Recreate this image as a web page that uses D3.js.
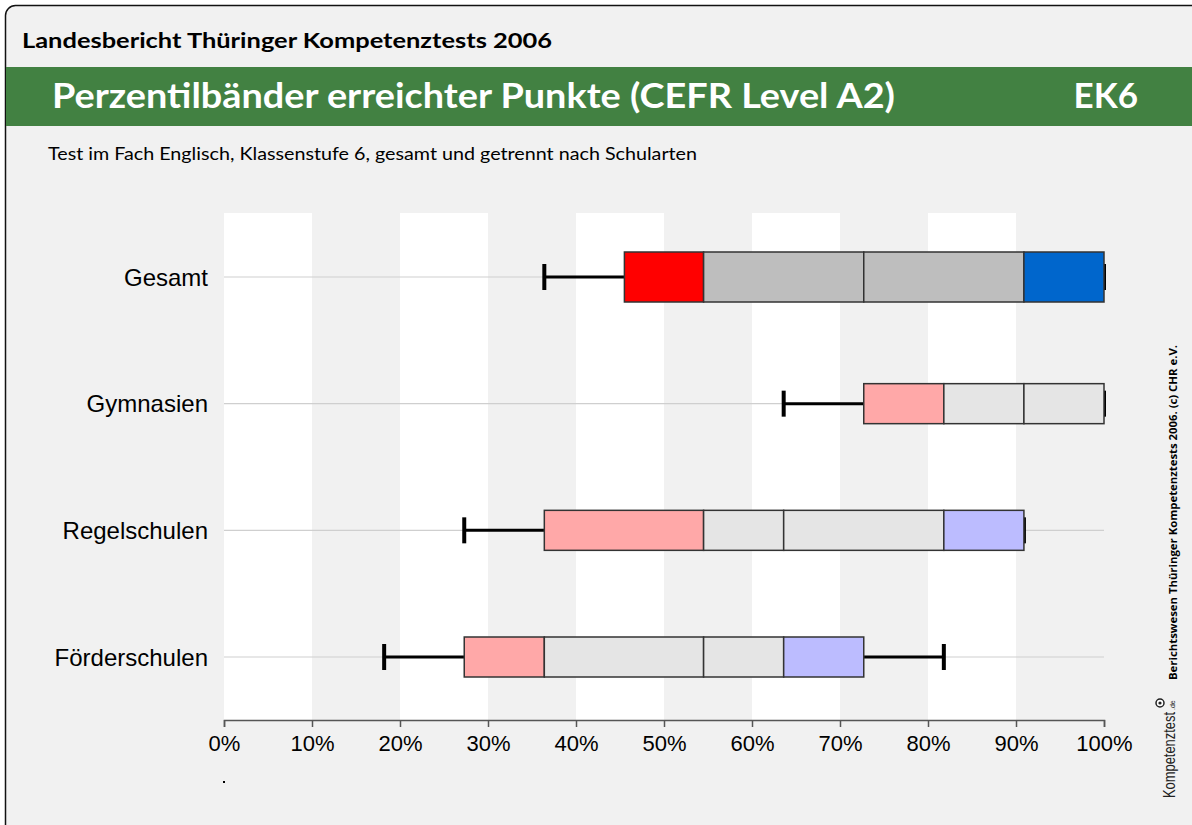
<!DOCTYPE html>
<html>
<head>
<meta charset="utf-8">
<script src="https://cdn.jsdelivr.net/npm/d3@7"></script>
<style>
  html, body { margin: 0; padding: 0; background: #fff; }
  svg { display: block; }
</style>
</head>
<body>
<div id="container"></div>
<script>
//Width and height
var w = 1192;
var h = 825;

//percentile data (% of points)
var categories = ["Gesamt", "Gymnasien", "Regelschulen", "Förderschulen"];
var p5  = [36.4, 63.6, 27.3, 18.2];
var p10 = [45.5, 72.7, 36.4, 27.3];
var p25 = [54.5, 81.8, 54.5, 36.4];
var p50 = [72.7, 90.9, 63.6, 54.5];
var p75 = [90.9, 100, 81.8, 63.6];
var p90 = [100, 100, 90.9, 72.7];
var p95 = [100, 100, 90.9, 81.8];
var tickValues = [0, 10, 20, 30, 40, 50, 60, 70, 80, 90, 100];

//colours: first row strong, school types pale
var strongColors = ["#ff0000", "#bebebe", "#bebebe", "#0066cc"];
var paleColors = ["#ffa8a8", "#e5e5e5", "#e5e5e5", "#bcbcff"];

var svg = d3.select('#container')
    .append('svg')
    .attr('width', w)
    .attr('height', h);

//frame
svg.append('rect')
    .attr('x', 5.5)
    .attr('y', 5.5)
    .attr('width', w + 20)
    .attr('height', h + 20)
    .attr('rx', 10)
    .attr('fill', '#f1f1f1')
    .attr('stroke', '#111')
    .attr('stroke-width', 1.5);

//header
svg.append('text')
    .attr('x', 22)
    .attr('y', 48)
    .attr('textLength', 530)
    .attr('lengthAdjust', 'spacingAndGlyphs')
    .style('font-family', 'Lato, "DejaVu Sans", sans-serif')
    .style('font-weight', 'bold')
    .style('font-size', '21px')
    .style('fill', '#000')
    .text('Landesbericht Thüringer Kompetenztests 2006');

svg.append('rect')
    .attr('x', 6)
    .attr('y', 67)
    .attr('width', w)
    .attr('height', 59)
    .attr('fill', '#428142');

svg.append('text')
    .attr('x', 52)
    .attr('y', 108)
    .attr('textLength', 843)
    .attr('lengthAdjust', 'spacingAndGlyphs')
    .style('font-family', 'Lato, "DejaVu Sans", sans-serif')
    .style('font-weight', 'bold')
    .style('font-size', '35px')
    .style('fill', '#fff')
    .text('Perzentilbänder erreichter Punkte (CEFR Level A2)');

svg.append('text')
    .attr('x', 1138)
    .attr('y', 108)
    .attr('text-anchor', 'end')
    .style('font-family', 'Lato, "DejaVu Sans", sans-serif')
    .style('font-weight', 'bold')
    .style('font-size', '35px')
    .style('fill', '#fff')
    .text('EK6');

svg.append('text')
    .attr('x', 48)
    .attr('y', 160)
    .attr('textLength', 649)
    .attr('lengthAdjust', 'spacingAndGlyphs')
    .style('font-family', 'Lato, "DejaVu Sans", sans-serif')
    .style('font-size', '17px')
    .style('fill', '#000')
    .text('Test im Fach Englisch, Klassenstufe 6, gesamt und getrennt nach Schularten');

//scales
var x = d3.scaleLinear()
    .domain([0, 100])
    .range([224, 1104]);

var y = d3.scalePoint()
    .domain(categories)
    .range([277, 657]);

var plotTop = 213;
var plotBottom = 720;

//background stripes (grey every other decade)
svg.selectAll('rect.stripe')
    .data(d3.range(0, 100, 10))
    .enter()
    .append('rect')
    .attr('class', 'stripe')
    .attr('x', function(d) { return x(d); })
    .attr('y', plotTop)
    .attr('width', x(10) - x(0))
    .attr('height', plotBottom - plotTop)
    .attr('fill', function(d) { return (d / 10) % 2 === 0 ? '#ffffff' : '#f1f1f1'; });

//horizontal guide lines
svg.selectAll('line.guide')
    .data(categories)
    .enter()
    .append('line')
    .attr('class', 'guide')
    .attr('x1', x(0))
    .attr('x2', x(100))
    .attr('y1', function(d) { return y(d); })
    .attr('y2', function(d) { return y(d); })
    .attr('stroke', '#cfcfcf')
    .attr('stroke-width', 1.2);

//category labels
svg.selectAll('text.cat')
    .data(categories)
    .enter()
    .append('text')
    .attr('class', 'cat')
    .attr('x', 208)
    .attr('y', function(d) { return y(d) + 8.5; })
    .attr('text-anchor', 'end')
    .style('font-family', '"Liberation Sans", Arial, sans-serif')
    .style('font-size', '24px')
    .style('fill', '#000')
    .text(function(d) { return d; });

//one group per row
var rows = categories.map(function(c, i) {
    return {
        name: c,
        i: i,
        vals: [p10[i], p25[i], p50[i], p75[i], p90[i]],
        lo: p5[i],
        hi: p95[i],
        colors: i === 0 ? strongColors : paleColors,
        bh: i === 0 ? 50 : 40
    };
});

var row = svg.selectAll('g.row')
    .data(rows)
    .enter()
    .append('g')
    .attr('class', 'row')
    .attr('transform', function(d) { return 'translate(0,' + y(d.name) + ')'; });

//whisker lines
row.append('line')
    .attr('x1', function(d) { return x(d.lo); })
    .attr('x2', function(d) { return x(d.vals[0]); })
    .attr('stroke', '#000')
    .attr('stroke-width', 3);

row.append('line')
    .attr('x1', function(d) { return x(d.vals[4]); })
    .attr('x2', function(d) { return x(d.hi); })
    .attr('stroke', '#000')
    .attr('stroke-width', 3);

//whisker caps (under the boxes, so caps at a box edge only peek out)
row.selectAll('line.cap')
    .data(function(d) { return [d.lo, d.hi]; })
    .enter()
    .append('line')
    .attr('class', 'cap')
    .attr('x1', function(v) { return x(v); })
    .attr('x2', function(v) { return x(v); })
    .attr('y1', -13)
    .attr('y2', 13)
    .attr('stroke', '#000')
    .attr('stroke-width', 4);

//box segments
row.each(function(d) {
    var segs = [];
    for (var k = 0; k < 4; k++) {
        if (d.vals[k + 1] > d.vals[k]) {
            segs.push({ a: d.vals[k], b: d.vals[k + 1], c: d.colors[k], bh: d.bh });
        }
    }
    d3.select(this).selectAll('rect.seg')
        .data(segs)
        .enter()
        .append('rect')
        .attr('class', 'seg')
        .attr('x', function(s) { return x(s.a); })
        .attr('y', function(s) { return -s.bh / 2; })
        .attr('width', function(s) { return x(s.b) - x(s.a); })
        .attr('height', function(s) { return s.bh; })
        .attr('fill', function(s) { return s.c; })
        .attr('stroke', '#333')
        .attr('stroke-width', 1.5);
});

//x axis
var axis = d3.axisBottom(x)
    .tickValues(tickValues)
    .tickSize(7)
    .tickPadding(8)
    .tickFormat(function(d) { return d + '%'; });

var gAxis = svg.append('g')
    .attr('transform', 'translate(0,' + plotBottom + ')')
    .call(axis);

gAxis.select('.domain')
    .attr('stroke', '#555')
    .attr('stroke-width', 1.5);

gAxis.selectAll('.tick line')
    .attr('stroke', '#555')
    .attr('stroke-width', 1.5);

gAxis.selectAll('.tick text')
    .style('font-family', '"Liberation Sans", Arial, sans-serif')
    .style('font-size', '22px')
    .attr('fill', '#000');

//tiny dot under axis
svg.append('rect')
    .attr('x', 223)
    .attr('y', 781)
    .attr('width', 2)
    .attr('height', 2)
    .attr('fill', '#000');

//side credit
svg.append('text')
    .attr('transform', 'translate(1177,680) rotate(-90)')
    .attr('textLength', 335)
    .attr('lengthAdjust', 'spacingAndGlyphs')
    .style('font-family', '"Open Sans", "DejaVu Sans", sans-serif')
    .style('font-weight', 'bold')
    .style('font-size', '11px')
    .style('fill', '#000')
    .text('Berichtswesen Thüringer Kompetenztests 2006. (c) CHR e.V.');

//logo
var logo = svg.append('g')
    .attr('transform', 'translate(1175,798) rotate(-90)');

logo.append('text')
    .attr('x', 0)
    .attr('y', 0)
    .attr('textLength', 86)
    .attr('lengthAdjust', 'spacingAndGlyphs')
    .style('font-family', '"Liberation Sans Narrow", "Liberation Sans", sans-serif')
    .style('font-size', '17px')
    .style('fill', '#222')
    .text('Kompetenztest');

logo.append('text')
    .attr('x', 88)
    .attr('y', 0)
    .style('font-family', '"Liberation Sans", sans-serif')
    .style('font-size', '7px')
    .style('fill', '#222')
    .text('.de');

logo.append('circle')
    .attr('cx', 95)
    .attr('cy', -15)
    .attr('r', 4)
    .attr('fill', '#fff')
    .attr('stroke', '#222')
    .attr('stroke-width', 1.5);

logo.append('circle')
    .attr('cx', 95)
    .attr('cy', -15)
    .attr('r', 1.6)
    .attr('fill', '#222');
</script>
</body>
</html>
